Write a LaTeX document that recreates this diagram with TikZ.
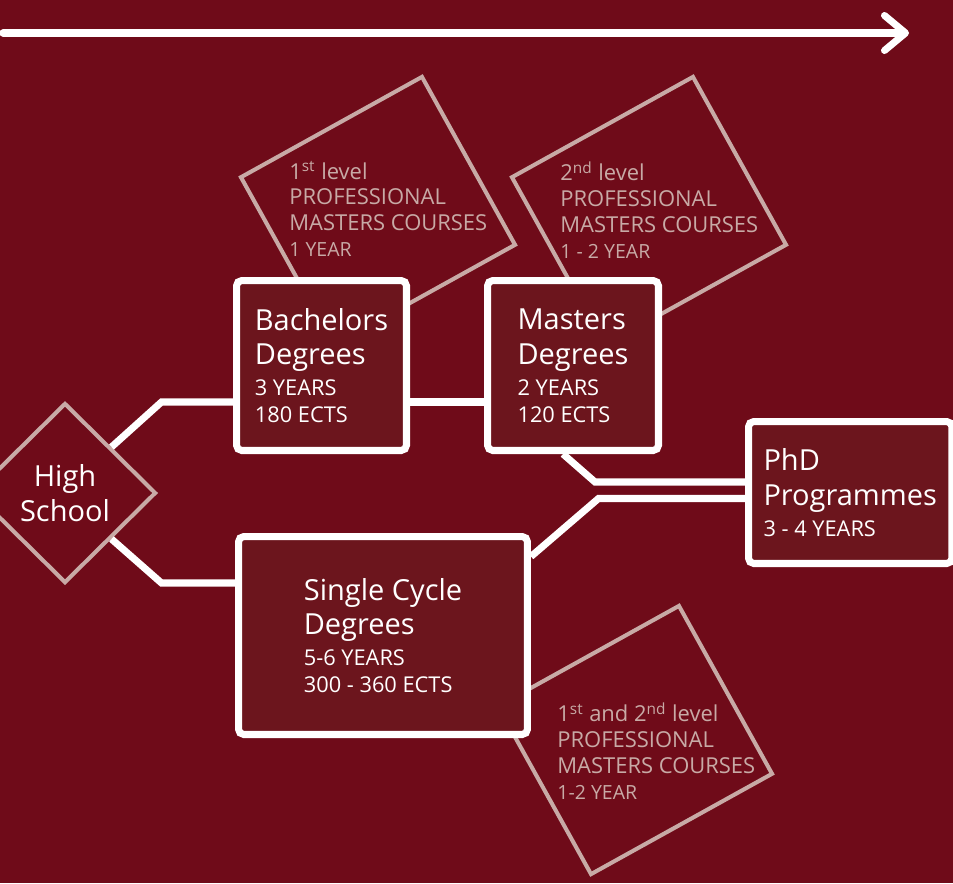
\documentclass[tikz,border=0pt]{standalone}
\usepackage{fontspec}
\setmainfont{Open Sans}
\usetikzlibrary{shapes.geometric,arrows.meta}

\definecolor{wine}{RGB}{111,11,25}
\definecolor{boxred}{RGB}{108,21,29}
\definecolor{rose}{RGB}{200,170,166}

\newcommand{\degreefont}{\fontsize{16.5}{18.7}\selectfont}
\newcommand{\yearsfont}{\fontsize{12.4}{15.3}\selectfont}
\newcommand{\notefont}{\fontsize{12.5}{14.7}\selectfont}
\newcommand{\notesmall}{\fontsize{11.1}{14.7}\selectfont}

\tikzset{
	degree/.style={draw=white, line width=4pt, rounded corners=3pt, fill=boxred,
		text=white, align=left, font=\degreefont, inner sep=0pt},
	tilt/.style={draw=rose, line width=2.3pt, rotate=29, minimum width=4.14cm,
		minimum height=3.84cm, inner sep=0pt},
	note/.style={text=rose, align=left, anchor=north west, inner sep=0pt, font=\notefont},
	school/.style={shape=diamond, draw=rose, line width=2.3pt, minimum width=3.64cm,
		minimum height=3.6cm, inner sep=0pt, text=white, align=center, font=\degreefont},
	link/.style={draw=white, line width=4pt},
	timeline/.style={draw=white, line width=4pt, line cap=round,
		-{Straight Barb[length=0.42cm, width=0.7cm, line cap=round, line join=round]}},
}

\begin{document}
\begin{tikzpicture}[x=0.02cm, y=-0.02cm]
	
	% Nền
	\useasboundingbox (0,0) rectangle (953,883);
	\fill[wine] (0,0) rectangle (953,883);
	
	% Mũi tên thời gian
	\coordinate (tl) at (3,33);
	\coordinate (tr) at (909,33);
	\draw[timeline] (tl) -- (tr);
	
	% Các khung nghiêng
	\node[tilt] (sq1) at (378,211) {};
	\node[tilt] (sq2) at (649,211) {};
	\node[tilt] (sq3) at (635,740) {};
	
	\node[note] (n1) at (289,161) {1\textsuperscript{st} level\\PROFESSIONAL\\MASTERS COURSES\\{\notesmall 1 YEAR}};
	\node[note] (n2) at (560,161) {2\textsuperscript{nd} level\\PROFESSIONAL\\MASTERS COURSES\\{\notesmall 1 - 2 YEAR}};
	\node[note] (n3) at (557,702) {1\textsuperscript{st} and 2\textsuperscript{nd} level\\PROFESSIONAL\\MASTERS COURSES\\{\notesmall 1-2 YEAR}};
	
	% Các bậc học
	\node[school] (hs) at (65,493) {High\\[1.1pt]School};
	\node[degree, minimum width=3.4cm, minimum height=3.4cm] (bach) at (321.5,365.5)
		{Bachelors\\[1.1pt]Degrees\\[-1.1pt]{\yearsfont 3 YEARS}\\[-3.4pt]{\yearsfont 180 ECTS}};
	\node[degree, minimum width=3.42cm, minimum height=3.4cm] (mas) at (573,365.5)
		{Masters\\[1.1pt]Degrees\\[-1.1pt]{\yearsfont 2 YEARS}\\[-3.4pt]{\yearsfont 120 ECTS}};
	\node[degree, minimum width=4.07cm, minimum height=2.84cm] (phd) at (850.25,492.5)
		{PhD\\[1.1pt]Programmes\\[-1.1pt]{\yearsfont 3 - 4 YEARS}};
	\node[degree, minimum width=5.78cm, minimum height=3.96cm] (sc) at (383,635.5)
		{Single Cycle\\[1.1pt]Degrees\\[-1.1pt]{\yearsfont 5-6 YEARS}\\[-3.4pt]{\yearsfont 300 - 360 ECTS}};
	
	% Đường nối
	\draw[link] (hs.north east) -- ++(50,-45) coordinate (k1) -- (k1 -| bach.west);
	\draw[link] (hs.south east) -- ++(50,44) coordinate (k2) -- (k2 -| sc.west);
	\draw[link] (bach.east |- k1) -- (mas.west |- k1);
	\draw[link] ([xshift=-0.2cm]mas.south) -- ++(32,28) coordinate (k3) -- (k3 -| phd.west);
	\draw[link] ([yshift=-0.47cm]sc.north east) -- ++(67.5,-58) coordinate (k4) -- (k4 -| phd.west);
	
\end{tikzpicture}
\end{document}
